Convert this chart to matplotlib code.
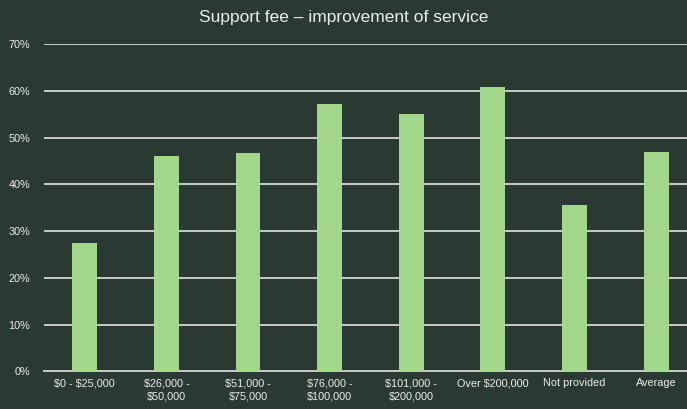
import matplotlib.pyplot as plt
from matplotlib.ticker import FuncFormatter

categories = ["$0 - $25,000", "$26,000 -\n$50,000", "$51,000 -\n$75,000",
              "$76,000 -\n$100,000", "$101,000 -\n$200,000", "Over $200,000",
              "Not provided", "Average"]
shares = [0.275, 0.461, 0.467, 0.573, 0.550, 0.608, 0.355, 0.470]
yticks = [0.0, 0.1, 0.2, 0.3, 0.4, 0.5, 0.6, 0.7]

bg = "#2a3932"
bar_color = "#a2d68a"
grid_color = "#c9cbc9"
text_color = "#eceeed"

plt.rcParams['font.family'] = ['Liberation Sans Narrow', 'Liberation Sans', 'DejaVu Sans']
plt.rcParams['text.parse_math'] = False

fig = plt.figure(figsize=(6.87, 4.09), dpi=100, facecolor=bg)
ax = fig.add_axes([0.0639, 0.0922, 0.9507, 0.7993], facecolor=bg)

x = range(len(categories))
ax.bar(x, shares, width=0.306, color=bar_color, zorder=3)

ax.set_xlim(-0.5, len(categories) - 0.5)
ax.set_ylim(0, 0.7)
ax.set_yticks(yticks)
ax.yaxis.set_major_formatter(FuncFormatter(lambda v, _: f"{v * 100:.0f}%"))
ax.grid(axis='y', color=grid_color, linewidth=1.4, zorder=1)
ax.set_xticks(list(x))
ax.set_xticklabels(categories, linespacing=1.45)

for side in ['top', 'right', 'left']:
    ax.spines[side].set_visible(False)
ax.spines['bottom'].set_color(grid_color)
ax.spines['bottom'].set_linewidth(1.4)

ax.tick_params(axis='both', length=0, colors=text_color, labelsize=7.8)
ax.tick_params(axis='y', pad=10)
ax.tick_params(axis='x', pad=5)

fig.text(0.5, 0.958, "Support fee \u2013 improvement of service", ha='center', va='center',
         color=text_color, fontsize=12.5)

fig.savefig("out.png", dpi=100, facecolor=bg)
